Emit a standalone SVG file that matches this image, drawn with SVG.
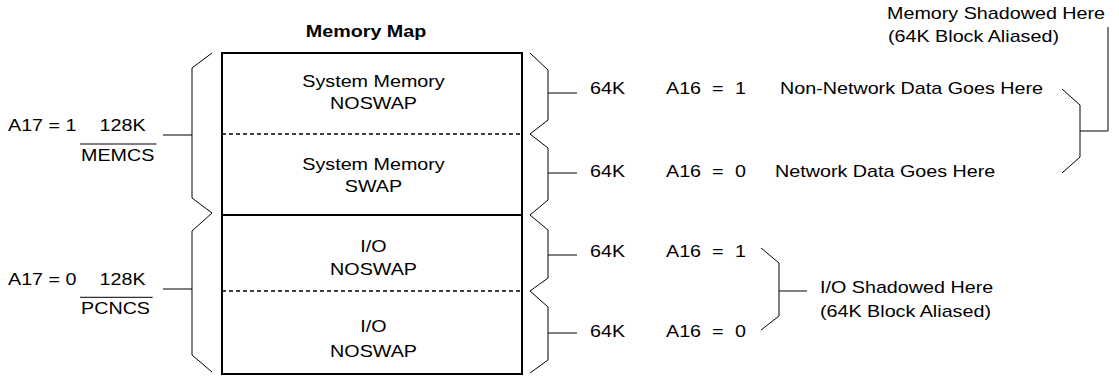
<svg xmlns="http://www.w3.org/2000/svg" width="1119" height="376" viewBox="0 0 1119 376">
<style>
.t{font-family:"Liberation Sans",Arial,Helvetica,sans-serif;font-size:17px;fill:#000}
.c{text-anchor:middle}
.b{font-weight:bold}
.br{fill:none;stroke:#000;stroke-width:1}
.box{fill:#fff;stroke:#000;stroke-width:2}
.dash{stroke:#000;stroke-width:1.5;stroke-dasharray:4 3}
.solid{stroke:#000;stroke-width:2}
</style>
<rect width="1119" height="376" fill="#fff"/>

<g id="title">
<text class="t c b" transform="translate(366,37) scale(1.16,1)">Memory Map</text>
</g>

<g id="memory-map">
<rect class="box" x="222" y="53" width="300" height="321"/>
<line class="dash" x1="222" y1="134" x2="522" y2="134"/>
<line class="solid" x1="222" y1="215" x2="522" y2="215"/>
<line class="dash" x1="222" y1="291" x2="522" y2="291"/>
</g>

<g id="cell-system-noswap">
<text class="t c" transform="translate(373.5,86.5) scale(1.16,1)">System Memory</text>
<text class="t c" transform="translate(373.5,108.5) scale(1.16,1)">NOSWAP</text>
</g>
<g id="cell-system-swap">
<text class="t c" transform="translate(373.5,170) scale(1.16,1)">System Memory</text>
<text class="t c" transform="translate(373.5,191.7) scale(1.16,1)">SWAP</text>
</g>
<g id="cell-io-noswap-1">
<text class="t c" transform="translate(373.5,251.7) scale(1.16,1)">I/O</text>
<text class="t c" transform="translate(373.5,275) scale(1.16,1)">NOSWAP</text>
</g>
<g id="cell-io-noswap-2">
<text class="t c" transform="translate(373.5,331.7) scale(1.16,1)">I/O</text>
<text class="t c" transform="translate(373.5,356.7) scale(1.16,1)">NOSWAP</text>
</g>

<g id="label-memcs">
<text class="t" transform="translate(8,131) scale(1.16,1)">A17 = 1</text>
<text class="t" transform="translate(99.5,131) scale(1.16,1)">128K</text>
<text class="t" transform="translate(81,160.5) scale(1.16,1)">MEMCS</text>
<line x1="80" y1="144" x2="156.5" y2="144" stroke="#000" stroke-width="1"/>
</g>
<g id="label-pcncs">
<text class="t" transform="translate(8,285) scale(1.16,1)">A17 = 0</text>
<text class="t" transform="translate(99.5,285) scale(1.16,1)">128K</text>
<text class="t" transform="translate(81,313.5) scale(1.16,1)">PCNCS</text>
<line x1="80" y1="297.3" x2="152.7" y2="297.3" stroke="#000" stroke-width="1"/>
</g>

<g id="row-1">
<text class="t" transform="translate(590,94) scale(1.16,1)">64K</text>
<text class="t" transform="translate(666,94) scale(1.16,1)"><tspan x="0">A16</tspan> <tspan x="39.7">=</tspan> <tspan x="59.5">1</tspan></text>
<text class="t" transform="translate(780,94) scale(1.16,1)">Non-Network Data Goes Here</text>
</g>
<g id="row-2">
<text class="t" transform="translate(590,177) scale(1.16,1)">64K</text>
<text class="t" transform="translate(666,177) scale(1.16,1)"><tspan x="0">A16</tspan> <tspan x="39.7">=</tspan> <tspan x="59.5">0</tspan></text>
<text class="t" transform="translate(775,177) scale(1.16,1)">Network Data Goes Here</text>
</g>
<g id="row-3">
<text class="t" transform="translate(590,256.7) scale(1.16,1)">64K</text>
<text class="t" transform="translate(666,256.7) scale(1.16,1)"><tspan x="0">A16</tspan> <tspan x="39.7">=</tspan> <tspan x="59.5">1</tspan></text>
</g>
<g id="row-4">
<text class="t" transform="translate(590,336.7) scale(1.16,1)">64K</text>
<text class="t" transform="translate(666,336.7) scale(1.16,1)"><tspan x="0">A16</tspan> <tspan x="39.7">=</tspan> <tspan x="59.5">0</tspan></text>
</g>

<g id="memory-shadowed">
<text class="t" transform="translate(887,19.3) scale(1.16,1)">Memory Shadowed Here</text>
<text class="t" transform="translate(888,41.6) scale(1.16,1)">(64K Block Aliased)</text>
</g>
<g id="io-shadowed">
<text class="t" transform="translate(820,293.3) scale(1.16,1)">I/O Shadowed Here</text>
<text class="t" transform="translate(820,317) scale(1.16,1)">(64K Block Aliased)</text>
</g>

<g id="connectors">
<path class="br" d="M212,53 L192,68 V198 L212,213 L192,231 V355 L212,372"/>
<path class="br" d="M163,135 H192 M163,289 H192"/>
<path class="br" d="M530,53 L548,70 V120 L530,134 L548,148 V200 L530,215 L548,230 V278 L530,291 L548,307 V360 L530,373"/>
<path class="br" d="M548,93 H577 M548,173 H577 M548,255 H577 M548,333 H577"/>
<path class="br" d="M1062,89 L1080,105 V157 L1062,173"/>
<path class="br" d="M1080,131 H1108 V27"/>
<path class="br" d="M761,248 L779,263 V316 L761,330"/>
<path class="br" d="M779,291 H807"/>
</g>
</svg>
